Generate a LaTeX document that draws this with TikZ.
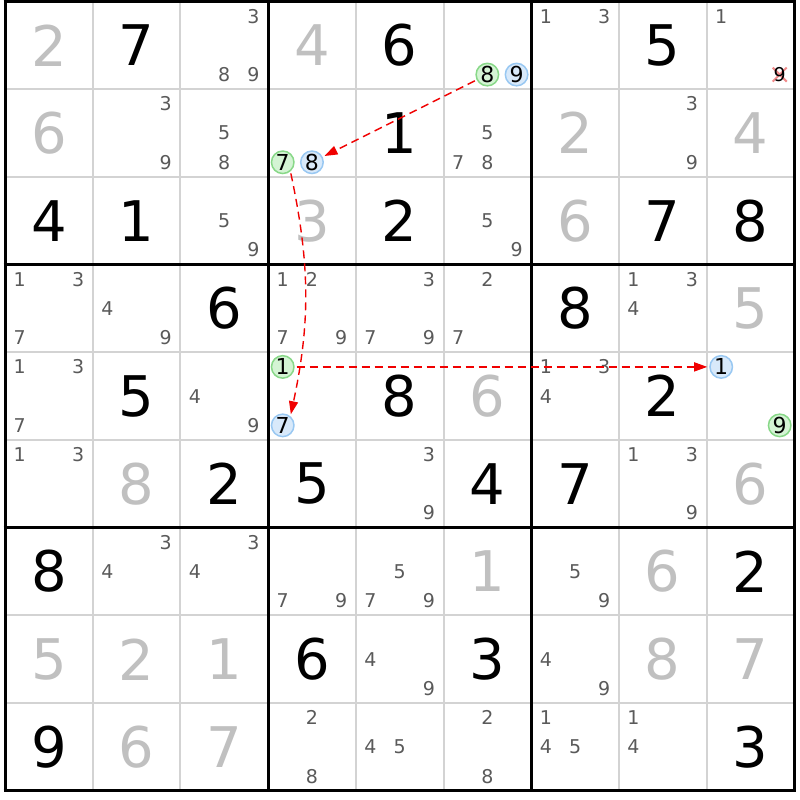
\documentclass[tikz,border=0pt]{standalone}
\usepackage{fontspec}
\setmainfont{DejaVu Sans}
\usetikzlibrary{arrows.meta}
\definecolor{candc}{HTML}{5A5A5A}
\definecolor{solvedc}{HTML}{C0C0C0}
\definecolor{thinc}{HTML}{D3D3D3}
\definecolor{gfill}{HTML}{D4F4D4}
\definecolor{gline}{HTML}{88D888}
\definecolor{bfill}{HTML}{D8E9FA}
\definecolor{bline}{HTML}{99C8F2}
\definecolor{arrc}{HTML}{F00000}
\definecolor{xc}{HTML}{F08A8A}
\newcommand\Cpos[3]{%
  \pgfmathsetmacro\gx{5+(#2-1)*87.7+(2*mod(#3-1,3)+1)*87.7/6}%
  \pgfmathsetmacro\gy{800-1.5-(#1-1)*87.7-(2*floor((#3-1)/3)+1)*87.7/6}}
\newcommand\Gv[4][given]{%
  \pgfmathsetmacro\gx{5+(#3-0.5)*87.7}%
  \pgfmathsetmacro\gy{800-1.5-(#2-0.5)*87.7}%
  \node[#1] (g#2#3) at (\gx pt,\gy pt) {#4};}
\newcommand\Cd[4][cand]{%
  \Cpos{#2}{#3}{#4}%
  \node[#1] (c#2#3#4) at (\gx pt,\gy pt) {#4};}
\newcommand\Cds[3]{\foreach \q in {#3}{\Cd{#1}{#2}{\q}}}
\tikzset{
  given/.style={font=\fontsize{56}{56}\selectfont, text=black, inner sep=0pt},
  solved/.style={given, text=solvedc},
  cand/.style={font=\fontsize{19}{19}\selectfont, text=candc, inner sep=0pt},
  xcand/.style={cand, text=black},
  gcand/.style={font=\fontsize{22}{22}\selectfont, text=black, inner sep=0pt, circle,
     draw=gline, fill=gfill, line width=1.5pt, minimum size=22.5pt},
  bcand/.style={gcand, draw=bline, fill=bfill},
  arr/.style={draw=arrc, line width=1.4pt, dash pattern=on 8pt off 5pt,
     -{Triangle[length=13pt,width=9pt]}, shorten >=2pt, shorten <=2pt},
  thin/.style={draw=thinc, line width=2pt},
  thick/.style={draw=black, line width=3pt}
}
\begin{document}
\begin{tikzpicture}[x=1pt,y=1pt]
\fill[white] (0,0) rectangle (800,800);
\useasboundingbox (0,0) rectangle (800,800);
% grid
\foreach \i in {1,2,4,5,7,8}{
  \draw[thin] ({5+\i*87.7},798.5) -- ({5+\i*87.7},{798.5-9*87.7});
  \draw[thin] (5,{798.5-\i*87.7}) -- ({5+9*87.7},{798.5-\i*87.7});
}
\foreach \i in {0,3,6,9}{
  \draw[thick] ({5+\i*87.7},{798.5+1.5}) -- ({5+\i*87.7},{798.5-9*87.7-1.5});
  \draw[thick] ({5-1.5},{798.5-\i*87.7}) -- ({5+9*87.7+1.5},{798.5-\i*87.7});
}
% row 1
\Gv[solved]{1}{1}{2} \Gv{1}{2}{7} \Cds{1}{3}{3,8,9} \Gv[solved]{1}{4}{4} \Gv{1}{5}{6}
\Cd[gcand]{1}{6}{8} \Cd[bcand]{1}{6}{9} \Cds{1}{7}{1,3} \Gv{1}{8}{5} \Cd{1}{9}{1}
\Cpos{1}{9}{9}
\draw[xc, line width=2pt] ({\gx-7},{\gy-7}) -- ({\gx+7},{\gy+7}) ({\gx-7},{\gy+7}) -- ({\gx+7},{\gy-7});
\Cd[xcand]{1}{9}{9}
% row 2
\Gv[solved]{2}{1}{6} \Cds{2}{2}{3,9} \Cds{2}{3}{5,8} \Cd[gcand]{2}{4}{7} \Cd[bcand]{2}{4}{8}
\Gv{2}{5}{1} \Cds{2}{6}{5,7,8} \Gv[solved]{2}{7}{2} \Cds{2}{8}{3,9} \Gv[solved]{2}{9}{4}
% row 3
\Gv{3}{1}{4} \Gv{3}{2}{1} \Cds{3}{3}{5,9} \Gv[solved]{3}{4}{3} \Gv{3}{5}{2} \Cds{3}{6}{5,9}
\Gv[solved]{3}{7}{6} \Gv{3}{8}{7} \Gv{3}{9}{8}
% row 4
\Cds{4}{1}{1,3,7} \Cds{4}{2}{4,9} \Gv{4}{3}{6} \Cds{4}{4}{1,2,7,9} \Cds{4}{5}{3,7,9}
\Cds{4}{6}{2,7} \Gv{4}{7}{8} \Cds{4}{8}{1,3,4} \Gv[solved]{4}{9}{5}
% row 5
\Cds{5}{1}{1,3,7} \Gv{5}{2}{5} \Cds{5}{3}{4,9} \Cd[gcand]{5}{4}{1} \Cd[bcand]{5}{4}{7}
\Gv{5}{5}{8} \Gv[solved]{5}{6}{6} \Cds{5}{7}{1,3,4} \Gv{5}{8}{2} \Cd[bcand]{5}{9}{1} \Cd[gcand]{5}{9}{9}
% row 6
\Cds{6}{1}{1,3} \Gv[solved]{6}{2}{8} \Gv{6}{3}{2} \Gv{6}{4}{5} \Cds{6}{5}{3,9} \Gv{6}{6}{4}
\Gv{6}{7}{7} \Cds{6}{8}{1,3,9} \Gv[solved]{6}{9}{6}
% row 7
\Gv{7}{1}{8} \Cds{7}{2}{3,4} \Cds{7}{3}{3,4} \Cds{7}{4}{7,9} \Cds{7}{5}{5,7,9}
\Gv[solved]{7}{6}{1} \Cds{7}{7}{5,9} \Gv[solved]{7}{8}{6} \Gv{7}{9}{2}
% row 8
\Gv[solved]{8}{1}{5} \Gv[solved]{8}{2}{2} \Gv[solved]{8}{3}{1} \Gv{8}{4}{6} \Cds{8}{5}{4,9}
\Gv{8}{6}{3} \Cds{8}{7}{4,9} \Gv[solved]{8}{8}{8} \Gv[solved]{8}{9}{7}
% row 9
\Gv{9}{1}{9} \Gv[solved]{9}{2}{6} \Gv[solved]{9}{3}{7} \Cds{9}{4}{2,8} \Cds{9}{5}{4,5}
\Cds{9}{6}{2,8} \Cds{9}{7}{1,4,5} \Cds{9}{8}{1,4} \Gv{9}{9}{3}
% arrows
\draw[arr] (c168) -- (c248);
\draw[arr] (c247.-50) to[out=-78,in=78] (c547.50);
\draw[arr] (c541) -- (c591);
\end{tikzpicture}
\end{document}
